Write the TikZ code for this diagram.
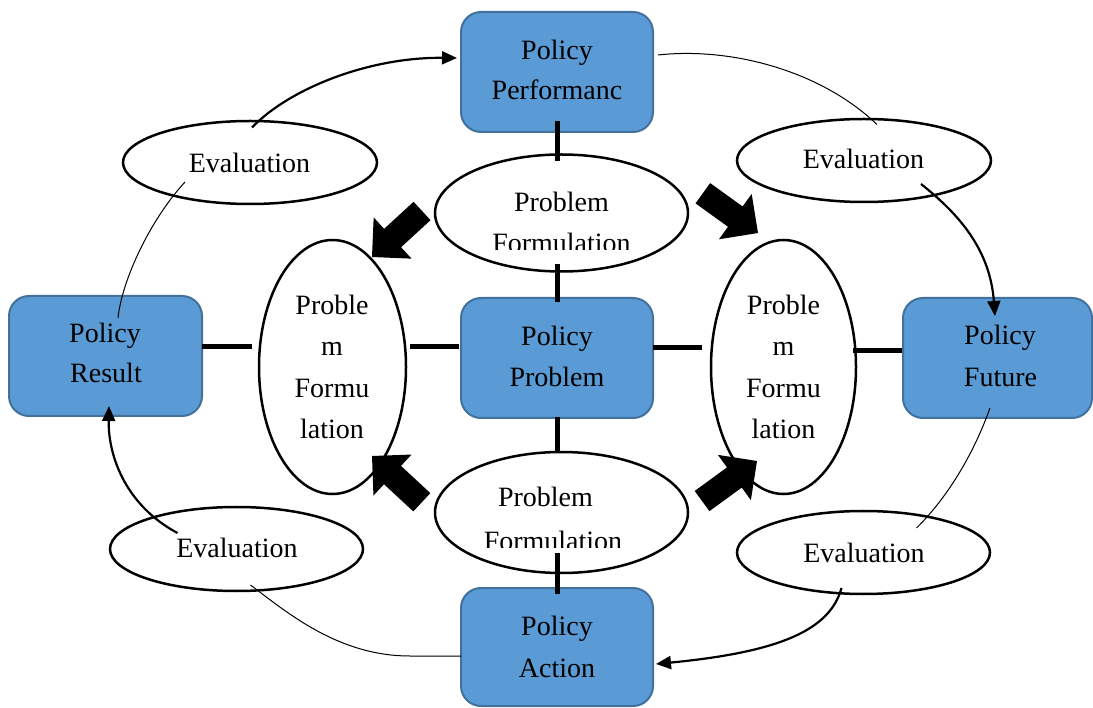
\documentclass[tikz,border=0pt]{standalone}
\usepackage{fontspec}
\setmainfont{Liberation Serif}
\usetikzlibrary{shapes.geometric,arrows.meta,calc}
\definecolor{boxblue}{HTML}{5B9BD5}
\definecolor{boxedge}{HTML}{41719C}
\newcommand\fatarrow[2]{\fill[shift={(#1)},rotate=#2] (0,0) -- (-28,28) -- (-28,12.5) -- (-68,12.5) -- (-68,-12.5) -- (-28,-12.5) -- (-28,-28) -- cycle;}
\begin{document}
\begin{tikzpicture}[x=1pt,y=-1pt,
  pbox/.style={rectangle, rounded corners=20pt, fill=boxblue, draw=boxedge, line width=2pt, inner sep=0pt},
  povl/.style={ellipse, draw=black, line width=2.5pt, fill=white, inner sep=0pt},
  lbl/.style={anchor=base, font=\fontsize{28}{32}\selectfont, inner sep=0pt},
  link/.style={line width=5pt},
  flow/.style={line width=2.2pt, -{Triangle[length=15pt,width=13pt]}},
  thinline/.style={line width=1pt}]
\useasboundingbox (0,0) rectangle (1093,708);
% boxes
\node[pbox, minimum width=192pt, minimum height=120pt] (pt) at (557,72) {};
\node[pbox, minimum width=192pt, minimum height=120pt] (pc) at (557,358) {};
\node[pbox, minimum width=193pt, minimum height=120pt] (pr) at (105.5,356) {};
\node[pbox, minimum width=189pt, minimum height=120pt] (pfu) at (997.5,358) {};
\node[pbox, minimum width=192pt, minimum height=118pt] (pa) at (557,647) {};
% ellipses
\node[povl, minimum width=253pt, minimum height=117pt] (pf1) at (561.5,213) {};
\node[povl, minimum width=253pt, minimum height=121pt] (pf2) at (561.5,512.5) {};
\node[povl, minimum width=147pt, minimum height=254pt] (el) at (332.5,367) {};
\node[povl, minimum width=145pt, minimum height=254pt] (er) at (783.5,367) {};
\node[povl, minimum width=254pt, minimum height=83pt] (e1) at (250,162.5) {};
\node[povl, minimum width=254pt, minimum height=83pt] (e2) at (864,160.5) {};
\node[povl, minimum width=253pt, minimum height=84pt] (e3) at (236.5,549) {};
\node[povl, minimum width=253pt, minimum height=83pt] (e4) at (863.5,552.5) {};
% texts
\node[lbl] (tpt1) at (557,60) {Policy};
\node[lbl] (tpt2) at (557,100) {Performanc};
\node[lbl] (tpc1) at (557,346) {Policy};
\node[lbl] (tpc2) at (557,387) {Problem};
\node[lbl] (tpr1) at (105,343) {Policy};
\node[lbl] (tpr2) at (106,383) {Result};
\node[lbl] (tpf1) at (1000,345) {Policy};
\node[lbl] (tpf2) at (1000.5,387) {Future};
\node[lbl] (tpa1) at (557,635) {Policy};
\node[lbl] (tpa2) at (557,677) {Action};
\node[lbl] (tq1) at (561.5,212) {Problem};
\begin{scope}
\clip (430,225) rectangle (700,250);
\node[lbl] (tq2) at (561.5,253) {Formulation};
\end{scope}
\node[lbl] (tq3) at (545.5,507) {Problem};
\begin{scope}
\clip (430,520) rectangle (700,547);
\node[lbl] (tq4) at (553,550) {Formulation};
\end{scope}
\node[lbl] (tl1) at (332,315) {Proble};
\node[lbl] (tl2) at (332,356) {m};
\node[lbl] (tl3) at (332,398) {Formu};
\node[lbl] (tl4) at (332,439) {lation};
\node[lbl] (tr1) at (783.5,315) {Proble};
\node[lbl] (tr2) at (783.5,356) {m};
\node[lbl] (tr3) at (783.5,398) {Formu};
\node[lbl] (tr4) at (783.5,439) {lation};
\node[lbl] (te1) at (249.5,173) {Evaluation};
\node[lbl] (te2) at (863.5,169) {Evaluation};
\node[lbl] (te3) at (237,557) {Evaluation};
\node[lbl] (te4) at (864,562) {Evaluation};
% thick links
\draw[link] ($(pt.south)+(0,-12)$) -- ($(pt.south |- pf1.north)+(0,8)$);
\draw[link] ($(pc.north |- pf1.south)+(0,-9)$) -- ($(pc.north)+(0,5)$);
\draw[link] ($(pc.south)+(0,-2)$) -- ($(pc.south |- pf2.north)+(0,1)$);
\draw[link] ($(pa.north |- pf2.south)+(0,-21)$) -- ($(pa.north)+(0,7)$);
\draw[link] ($(pr.east)+(-1,-9)$) -- ($(pr.east -| el.west)+(-6,-9)$);
\draw[link] ($(el.east)+(3,-20)$) -- ($(pc.west)+(-1,-11)$);
\draw[link] ($(pc.east)+(-1,-10)$) -- ($(er.west)+(-8,-19)$);
\draw[link] ($(er.east)+(-4,-16)$) -- ($(pfu.west)+(0,-7)$);
% fat arrows
\fatarrow{372,257}{222.6}
\fatarrow{758,233}{-35.8}
\fatarrow{372,456}{137.1}
\fatarrow{757,461}{36.1}
% curved connectors
\draw[flow] ($(e1)+(2,-35)$) .. controls (290,88) and (370,57) .. ($(pt.west)+(-3,-14)$);
\draw[thinline] ($(pt.east)+(4,-17)$) .. controls (730,47) and (820,70) .. ($(e2)+(13,-36)$);
\draw[flow] ($(e2)+(57,23.5)$) .. controls (960,215) and (990,250) .. ($(pfu.north)+(-2.5,19)$);
\draw[thinline] ($(pfu)+(-7.5,50)$) .. controls (975,450) and (950,495) .. ($(e4)+(53,-24.5)$);
\draw[flow] ($(e4)+(-22,35.5)$) .. controls (830,630) and (780,652) .. ($(pa.east)+(2,17)$);
\draw[thinline] ($(pa.west)+(1,9)$) -- (410,656) .. controls (340,656) and (290,615) .. ($(e3)+(14,36)$);
\draw[flow] ($(e3)+(-59,-16)$) .. controls (125,505) and (108,455) .. ($(pr.south)+(3.5,-11)$);
\draw[thinline] ($(pr)+(12.5,-38)$) .. controls (122,280) and (150,220) .. ($(e1)+(-65,19.5)$);
\end{tikzpicture}
\end{document}
